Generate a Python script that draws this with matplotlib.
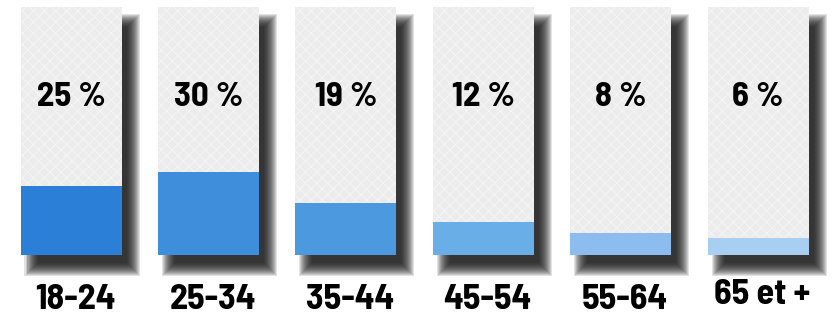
import matplotlib
matplotlib.use("Agg")
import matplotlib.pyplot as plt
from matplotlib.patches import Rectangle
from matplotlib import font_manager

categories = ["18-24", "25-34", "35-44", "45-54", "55-64", "65 et +"]
values = [25, 30, 19, 12, 8, 6]
pct_labels = ["25 %", "30 %", "19 %", "12 %", "8 %", "6 %"]
fill_colors = ["#2b7fd7", "#3f8edc", "#4d99e0", "#6aaee8", "#8dbdee", "#a8cef1"]

names = {f.name for f in font_manager.fontManager.ttflist}
prefs = ["Barlow Semi Condensed", "Barlow Condensed", "Roboto Condensed",
         "Asap Condensed", "Archivo Narrow", "Liberation Sans Narrow"]
fam = [p for p in prefs if p in names][:1] + ["DejaVu Sans"]

fig = plt.figure(figsize=(8.39, 3.16), dpi=100)
ax = fig.add_axes([0, 0, 1, 1])
step_px = 137.4
x0_px = 71
ax.set_xlim(-x0_px / step_px, (839 - x0_px) / step_px)
box_top = 90.0
px_per_unit = 248 / box_top
ax.set_ylim(-(316 - 255) / px_per_unit, box_top + 7 / px_per_unit)
ax.axis("off")

w = 101 / step_px
bx = 1.0 / step_px
by = 1.0 / px_per_unit
off_x, off_y = 11, 14

plt.rcParams["hatch.linewidth"] = 0.8
for i, (cat, v, lab, col) in enumerate(zip(categories, values, pct_labels, fill_colors)):
    left = i - w / 2
    # blurred shadow
    for e in range(-6, 8):
        ax.add_patch(Rectangle((left + (off_x - e) * bx, -(off_y + e) * by),
                               w + 2 * e * bx, box_top + 2 * e * by,
                               facecolor="#111111", edgecolor="none", alpha=0.12, zorder=1))
    # box
    ax.add_patch(Rectangle((left, 0), w, box_top, facecolor="#ececec",
                           edgecolor="#f4f4f4", hatch="xxx", linewidth=0, zorder=2))
    # fill
    ax.add_patch(Rectangle((left, 0), w, v, facecolor=col, edgecolor="none", zorder=3))
    ax.text(i, 57.5, lab, ha="center", va="center", fontsize=25, fontweight="bold",
            family=fam, color="black", zorder=4)
    ylab = -14.5 if cat == "65 et +" else -16.3
    ax.text(i + 0.03, ylab, cat, ha="center", va="center", fontsize=26, fontweight="bold",
            family=fam, color="black", zorder=4)

fig.savefig("out.png", dpi=100, facecolor="white")
